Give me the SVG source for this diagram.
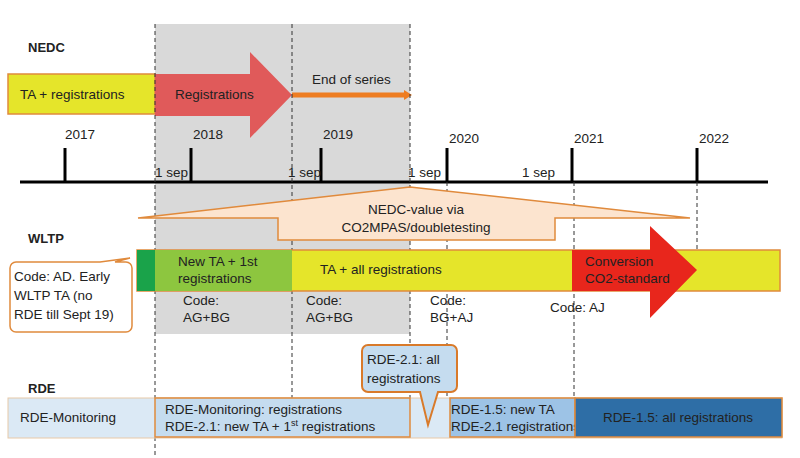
<svg xmlns="http://www.w3.org/2000/svg" width="800" height="458" viewBox="0 0 800 458">
<style>
text{font-family:"Liberation Sans",Arial,sans-serif;font-size:13.5px;fill:#222}
.h{font-weight:bold;font-size:13px}
.d{stroke:#333;stroke-width:1;stroke-dasharray:4,3;fill:none}
.t{stroke:#000;stroke-width:3}
.ob{stroke:#e08a3c;stroke-width:1.5}
</style>
<rect x="155" y="24" width="255" height="310" fill="#d9d9d9"/>
<g id="labels">
<text class="h" x="28" y="52">NEDC</text>
<text class="h" x="28" y="243">WLTP</text>
<text class="h" x="28" y="393">RDE</text>
</g>
<g id="nedc">
<rect x="8" y="74" width="147" height="40" fill="#e5e52a" class="ob"/>
<text x="20" y="99">TA + registrations</text>
<polygon points="155,74 250,74 250,52 292,95 250,138 250,116 155,116" fill="#e05a5a"/>
<text x="175" y="99" fill="#333">Registrations</text>
<line x1="292" y1="95" x2="406" y2="95" stroke="#ee7d22" stroke-width="5"/>
<polygon points="404,90 412,95 404,100" fill="#ee7d22"/>
<text x="312" y="84">End of series</text>
</g>
<g id="axis">
<line x1="20" y1="182" x2="768" y2="182" class="t" stroke-width="4"/>
<line x1="65" y1="148" x2="65" y2="182" class="t"/>
<line x1="191" y1="148" x2="191" y2="182" class="t"/>
<line x1="321" y1="148" x2="321" y2="182" class="t"/>
<line x1="447" y1="148" x2="447" y2="182" class="t"/>
<line x1="572" y1="148" x2="572" y2="182" class="t"/>
<line x1="697" y1="148" x2="697" y2="182" class="t"/>
<text x="65" y="139">2017</text><text x="193" y="139">2018</text><text x="323" y="139">2019</text>
<text x="449" y="143">2020</text><text x="574" y="143">2021</text><text x="699" y="143">2022</text>
<text x="155" y="177">1 sep</text><text x="288" y="177">1 sep</text><text x="408" y="177">1 sep</text><text x="522" y="177">1 sep</text>
</g>
<g id="connectors">
<line x1="155" y1="24" x2="155" y2="458" class="d"/>
<line x1="292" y1="24" x2="292" y2="400" class="d"/>
<line x1="410" y1="24" x2="410" y2="400" class="d"/>
<line x1="447" y1="182" x2="447" y2="400" class="d"/>
<line x1="574" y1="182" x2="574" y2="400" class="d"/>
<line x1="697" y1="182" x2="697" y2="250" class="d"/>
</g>
<g id="nedc-value">
<polygon points="138,218 410,187 690,218 555,218 555,240 278,240 278,218" fill="#fce4cf" class="ob"/>
<text x="416" y="214" text-anchor="middle">NEDC-value via</text>
<text x="416" y="232" text-anchor="middle">CO2MPAS/doubletesting</text>
</g>
<g id="wltp">
<rect x="137" y="250" width="643" height="41" fill="#e5e52a" class="ob"/>
<rect x="137" y="250" width="18" height="41" fill="#1aa34a"/>
<rect x="155" y="250" width="137" height="41" fill="#8dc63f"/>
<text x="178" y="266">New TA + 1st</text><text x="178" y="283">registrations</text>
<text x="320" y="274">TA + all registrations</text>
<polygon points="572,250 650,250 650,226 697,270 650,318 650,291 572,291" fill="#e8261c"/>
<text x="585" y="266" fill="#fff">Conversion</text><text x="585" y="283" fill="#fff">CO2-standard</text>
<text x="183" y="305">Code:</text><text x="183" y="322">AG+BG</text>
<text x="306" y="305">Code:</text><text x="306" y="322">AG+BG</text>
<text x="430" y="305">Code:</text><text x="430" y="322">BG+AJ</text>
<text x="550" y="312">Code: AJ</text>
</g>
<g id="callout-ad">
<path d="M16,262 H100 L130,258 L115,262 H126 a6,6 0 0 1 6,6 V326 a6,6 0 0 1 -6,6 H16 a6,6 0 0 1 -6,-6 V268 a6,6 0 0 1 6,-6 Z" fill="#fff" class="ob"/>
<text x="14" y="281">Code: AD. Early</text><text x="14" y="300">WLTP TA (no</text><text x="14" y="319">RDE till Sept 19)</text>
</g>
<g id="rde">
<rect x="8" y="398" width="774" height="40" fill="#dbe9f5" stroke="#e8c9a8"/>
<text x="20" y="422">RDE-Monitoring</text>
<rect x="155" y="398" width="255" height="39" fill="#c5dcef" class="ob"/>
<text x="165" y="414">RDE-Monitoring: registrations</text>
<text x="165" y="431">RDE-2.1: new TA + 1<tspan font-size="9" dy="-5">st</tspan><tspan dy="5"> registrations</tspan></text>
<rect x="450" y="398" width="125" height="39" fill="#9dc3e6" class="ob"/>
<text x="451" y="414">RDE-1.5: new TA</text><text x="451" y="431">RDE-2.1 registrations</text>
<rect x="575" y="398" width="207" height="39" fill="#2e6ea6" class="ob"/>
<text x="678" y="422" text-anchor="middle">RDE-1.5: all registrations</text>
</g>
<g id="callout-rde">
<path d="M368,345 H451 a6,6 0 0 1 6,6 V386 a6,6 0 0 1 -6,6 H438 L428,425 L420,392 H368 a6,6 0 0 1 -6,-6 V351 a6,6 0 0 1 6,-6 Z" fill="#c5dcef" stroke="#d97a2a" stroke-width="2"/>
<text x="367" y="364">RDE-2.1: all</text><text x="367" y="383">registrations</text>
</g>
</svg>
